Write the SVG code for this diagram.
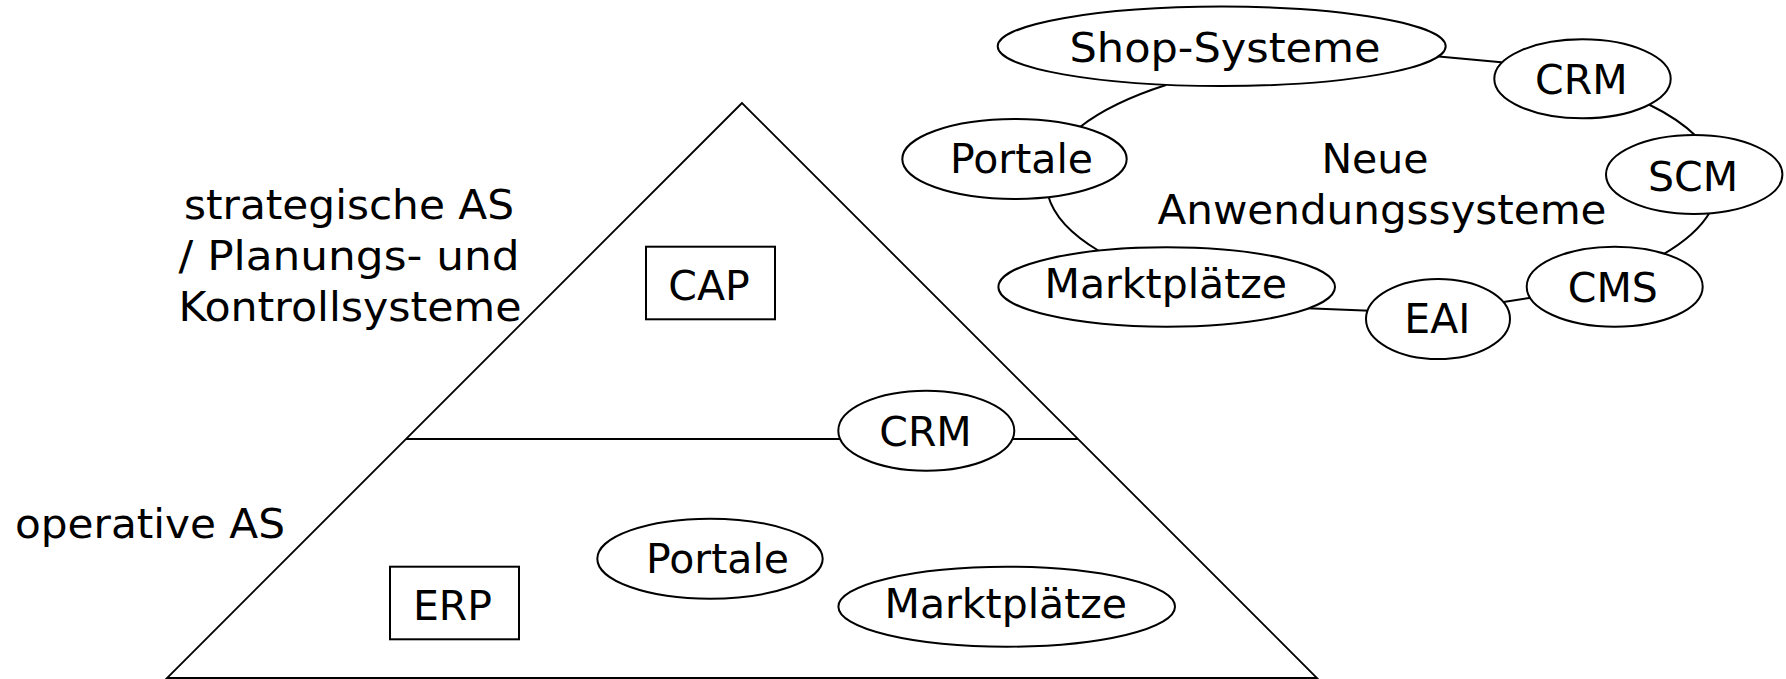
<svg xmlns="http://www.w3.org/2000/svg" width="1786" height="679" viewBox="0 0 1786 679">
<style>
.shape{fill:none;stroke:#000;stroke-width:1.8}
.conn{fill:none;stroke:#000;stroke-width:2}
.node{fill:#fff;stroke:#000;stroke-width:2}
.t{font-family:"DejaVu Sans",Verdana,sans-serif;font-size:41px;fill:#000;text-anchor:middle}
</style>
<rect x="0" y="0" width="1786" height="679" fill="#fff"/>
<g id="pyramid">
<polygon class="shape" points="742,103 167,678 1317,678"/>
<line class="shape" x1="406" y1="439" x2="1078" y2="439"/>
</g>
<g id="labels">
<text class="t" x="349" y="219" textLength="330" lengthAdjust="spacingAndGlyphs">strategische AS</text>
<text class="t" x="349" y="270" textLength="341" lengthAdjust="spacingAndGlyphs">/ Planungs- und</text>
<text class="t" x="350" y="321" textLength="343" lengthAdjust="spacingAndGlyphs">Kontrollsysteme</text>
<text class="t" x="150" y="538" textLength="270" lengthAdjust="spacingAndGlyphs">operative AS</text>
</g>
<g id="connectors">
<path class="conn" d="M1080,127 A338,128 0 0 1 1166,85"/>
<line class="conn" x1="1436" y1="56.3" x2="1504" y2="62.6"/>
<path class="conn" d="M1648,104 A338,128 0 0 1 1697,137"/>
<path class="conn" d="M1710,212 A338,128 0 0 1 1662,255"/>
<line class="conn" x1="1531" y1="297.8" x2="1502" y2="302.2"/>
<line class="conn" x1="1370" y1="310.8" x2="1307" y2="308.2"/>
<path class="conn" d="M1099,251 A338,128 0 0 1 1048,195"/>
</g>
<g id="node-cap">
<rect class="node" x="646" y="246.7" width="129" height="72.6"/>
<text class="t" x="709" y="300">CAP</text>
</g>
<g id="node-crm-pyramid">
<ellipse class="node" cx="926.3" cy="430.7" rx="88" ry="40"/>
<text class="t" x="925.5" y="445.7">CRM</text>
</g>
<g id="node-erp">
<rect class="node" x="390" y="566.7" width="129" height="72.6"/>
<text class="t" x="452.5" y="620">ERP</text>
</g>
<g id="node-portale-pyramid">
<ellipse class="node" cx="710" cy="558.7" rx="112.7" ry="40"/>
<text class="t" x="717.5" y="573.3">Portale</text>
</g>
<g id="node-marktplaetze-pyramid">
<ellipse class="node" cx="1006.7" cy="606.7" rx="168.3" ry="40"/>
<text class="t" x="1005.8" y="618.3">Marktplätze</text>
</g>
<g id="node-shop">
<ellipse class="node" cx="1221.7" cy="46.3" rx="224" ry="39.7"/>
<text class="t" x="1225" y="62" textLength="311" lengthAdjust="spacingAndGlyphs">Shop-Systeme</text>
</g>
<g id="node-crm">
<ellipse class="node" cx="1582.5" cy="78.8" rx="88.2" ry="39.5"/>
<text class="t" x="1581.3" y="94.3">CRM</text>
</g>
<g id="node-scm">
<ellipse class="node" cx="1694.2" cy="174.5" rx="88.2" ry="39.5"/>
<text class="t" x="1693" y="191">SCM</text>
</g>
<g id="node-cms">
<ellipse class="node" cx="1614.7" cy="286.7" rx="88" ry="40"/>
<text class="t" x="1612.8" y="301.7">CMS</text>
</g>
<g id="node-eai">
<ellipse class="node" cx="1438" cy="319" rx="72" ry="40"/>
<text class="t" x="1437.3" y="333.3">EAI</text>
</g>
<g id="node-marktplaetze">
<ellipse class="node" cx="1166.7" cy="287" rx="168.3" ry="39.7"/>
<text class="t" x="1165.8" y="297.7">Marktplätze</text>
</g>
<g id="node-portale">
<ellipse class="node" cx="1014.5" cy="159" rx="112.2" ry="40"/>
<text class="t" x="1021.5" y="173.3">Portale</text>
</g>
<g id="center-label">
<text class="t" x="1375" y="173.3">Neue</text>
<text class="t" x="1382" y="223.5" textLength="449" lengthAdjust="spacingAndGlyphs">Anwendungssysteme</text>
</g>
</svg>
